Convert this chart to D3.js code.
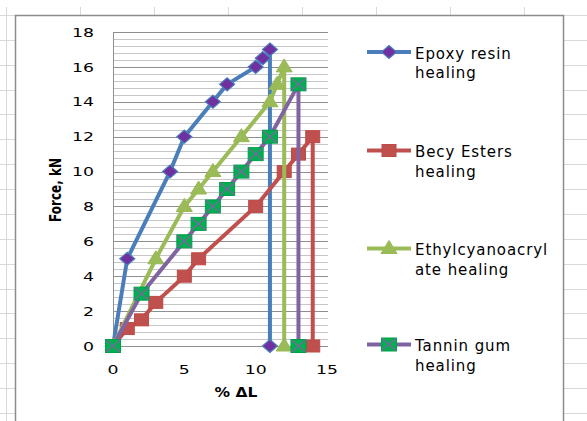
<!DOCTYPE html>
<html>
<head>
<meta charset="utf-8">
<script src="https://cdn.jsdelivr.net/npm/d3@7"></script>
<style>
  html, body { margin: 0; padding: 0; background: #fff; }
  svg { display: block; }
</style>
</head>
<body>
<svg id="chart" width="587" height="421"></svg>
<script>
// Force vs. elongation for four healing agents
const seriesNames = ["Epoxy resin healing", "Becy Esters healing", "Ethylcyanoacrylate healing", "Tannin gum healing"];
const legendLines = [["Epoxy resin", "healing"], ["Becy Esters", "healing"], ["Ethylcyanoacryl", "ate healing"], ["Tannin gum", "healing"]];

const epoxyX  = [0, 1, 4, 5, 7, 8, 10, 10.5, 11, 11];
const epoxyY  = [0, 5, 10, 12, 14, 15, 16, 16.5, 17, 0];
const becyX   = [0, 1, 2, 3, 5, 6, 10, 12, 13, 14, 14];
const becyY   = [0, 1, 1.5, 2.5, 4, 5, 8, 10, 11, 12, 0];
const ethylX  = [0, 3, 5, 6, 7, 9, 11, 11.5, 12, 12];
const ethylY  = [0, 5, 8, 9, 10, 12, 14, 15, 16, 0];
const tanninX = [0, 2, 5, 6, 7, 8, 9, 10, 11, 13, 13];
const tanninY = [0, 3, 6, 7, 8, 9, 10, 11, 12, 15, 0];

const xTicks = [0, 5, 10, 15];
const yTicks = [0, 2, 4, 6, 8, 10, 12, 14, 16, 18];
const xTitle = "% ΔL";
const yTitle = "Force, kN";

const svg = d3.select("#chart");

// worksheet cells behind the chart object
const sheet = svg.append("g").attr("stroke", "#d9d9d9").attr("stroke-width", 1);
d3.range(6, 600, 74).forEach(cx => {
  sheet.append("line").attr("x1", cx + 0.5).attr("x2", cx + 0.5).attr("y1", 7).attr("y2", 421);
});
d3.range(15, 430, 24.87).forEach(ry => {
  sheet.append("line").attr("x1", 0).attr("x2", 587).attr("y1", Math.round(ry) + 0.5).attr("y2", Math.round(ry) + 0.5);
});

// chart object
svg.append("rect").attr("x", 15.5).attr("y", 15.5).attr("width", 548).attr("height", 420)
  .attr("fill", "#fff").attr("stroke", "#8c8c8c").attr("stroke-width", 1.5);

const plot = { left: 113, right: 328, top: 32, bottom: 346 };
const x = d3.scaleLinear().domain([0, 15]).range([plot.left, plot.right - 1]);
const y = d3.scaleLinear().domain([0, 18]).range([plot.bottom, plot.top]);

// gridlines
const grid = svg.append("g");
grid.selectAll("line.minor").data(d3.range(0, 18.001, 0.4)).join("line")
  .attr("class", "minor")
  .attr("x1", plot.left).attr("x2", plot.right)
  .attr("y1", d => Math.round(y(d)) + 0.5).attr("y2", d => Math.round(y(d)) + 0.5)
  .attr("stroke", "#c6c6c6").attr("stroke-width", 1);
grid.selectAll("line.major").data(yTicks).join("line")
  .attr("class", "major")
  .attr("x1", plot.left).attr("x2", plot.right)
  .attr("y1", d => Math.round(y(d)) + 0.5).attr("y2", d => Math.round(y(d)) + 0.5)
  .attr("stroke", "#8f8f8f").attr("stroke-width", 1);
grid.append("line").attr("x1", plot.left + 0.5).attr("x2", plot.left + 0.5)
  .attr("y1", plot.top).attr("y2", plot.bottom + 1)
  .attr("stroke", "#8f8f8f").attr("stroke-width", 1);

// tick labels
const tickFont = "'DejaVu Sans', Verdana, sans-serif";
svg.append("g").selectAll("text").data(yTicks).join("text")
  .attr("transform", d => `translate(94,${y(d)}) scale(1.33,1)`)
  .attr("dy", "0.36em").attr("text-anchor", "end")
  .attr("font-family", tickFont).attr("font-size", 13).attr("fill", "#000")
  .text(d => d);
svg.append("g").selectAll("text").data(xTicks).join("text")
  .attr("transform", d => `translate(${x(d)},374) scale(1.33,1)`)
  .attr("text-anchor", "middle")
  .attr("font-family", tickFont).attr("font-size", 13).attr("fill", "#000")
  .text(d => d);

// axis titles
svg.append("text").attr("transform", "translate(236,397) scale(1.15,1)")
  .attr("text-anchor", "middle").attr("font-family", tickFont).attr("font-weight", "bold")
  .attr("font-size", 13.5).text(xTitle);
svg.append("text").attr("transform", "translate(55,190) scale(1.33,1) rotate(-90)")
  .attr("text-anchor", "middle").attr("dy", "0.36em").attr("font-family", tickFont)
  .attr("font-weight", "bold").attr("font-size", 12).text(yTitle);

// series styling
const styles = [
  { xs: epoxyX,  ys: epoxyY,  line: "#4a7ebb", marker: "diamond" },
  { xs: becyX,   ys: becyY,   line: "#c0504d", marker: "square" },
  { xs: ethylX,  ys: ethylY,  line: "#9bbb59", marker: "triangle" },
  { xs: tanninX, ys: tanninY, line: "#8064a2", marker: "xsquare" }
];

function drawMarker(g, kind, cx, cy) {
  if (kind === "diamond") {
    g.append("path").attr("d", `M${cx},${cy - 6.5}L${cx + 7.5},${cy}L${cx},${cy + 6.5}L${cx - 7.5},${cy}Z`)
      .attr("fill", "#7030a0").attr("stroke", "#4a7ebb").attr("stroke-width", 1.2);
  } else if (kind === "square") {
    g.append("rect").attr("x", cx - 7).attr("y", cy - 6).attr("width", 14).attr("height", 12)
      .attr("fill", "#c0504d").attr("stroke", "#be4b48").attr("stroke-width", 1);
  } else if (kind === "triangle") {
    g.append("path").attr("d", `M${cx},${cy - 8}L${cx + 8},${cy + 5}L${cx - 8},${cy + 5}Z`)
      .attr("fill", "#9bbb59").attr("stroke", "#98b954").attr("stroke-width", 1);
  } else {
    g.append("rect").attr("x", cx - 7.5).attr("y", cy - 6.5).attr("width", 15).attr("height", 13)
      .attr("fill", "#00b050").attr("stroke", "#00a04a").attr("stroke-width", 1);
    g.append("path").attr("d", `M${cx - 7},${cy - 6}L${cx + 7},${cy + 6}M${cx + 7},${cy - 6}L${cx - 7},${cy + 6}`)
      .attr("stroke", "#8064a2").attr("stroke-width", 1.3).attr("fill", "none");
  }
}

const lineGen = d3.line().x(d => x(d[0])).y(d => y(d[1]));
styles.forEach(s => {
  const pts = s.xs.map((v, i) => [v, s.ys[i]]);
  const g = svg.append("g");
  g.append("path").attr("d", lineGen(pts)).attr("fill", "none")
    .attr("stroke", s.line).attr("stroke-width", 4).attr("stroke-linejoin", "round");
  pts.forEach(p => drawMarker(g, s.marker, x(p[0]), y(p[1])));
});

// legend
const legendY = [52, 150.5, 248.5, 344.5];
const legend = svg.append("g");
styles.forEach((s, i) => {
  const ly = legendY[i];
  legend.append("line").attr("x1", 367).attr("x2", 411).attr("y1", ly).attr("y2", ly)
    .attr("stroke", s.line).attr("stroke-width", 4);
  drawMarker(legend, s.marker, 389, ly);
  const t = legend.append("text").attr("x", 415).attr("y", ly + 6.5)
    .attr("font-family", tickFont).attr("font-size", 15).attr("letter-spacing", 0.9).attr("fill", "#000");
  legendLines[i].forEach((ln, j) => {
    t.append("tspan").attr("x", 415).attr("dy", j === 0 ? 0 : 19.7).text(ln);
  });
});
</script>
</body>
</html>
